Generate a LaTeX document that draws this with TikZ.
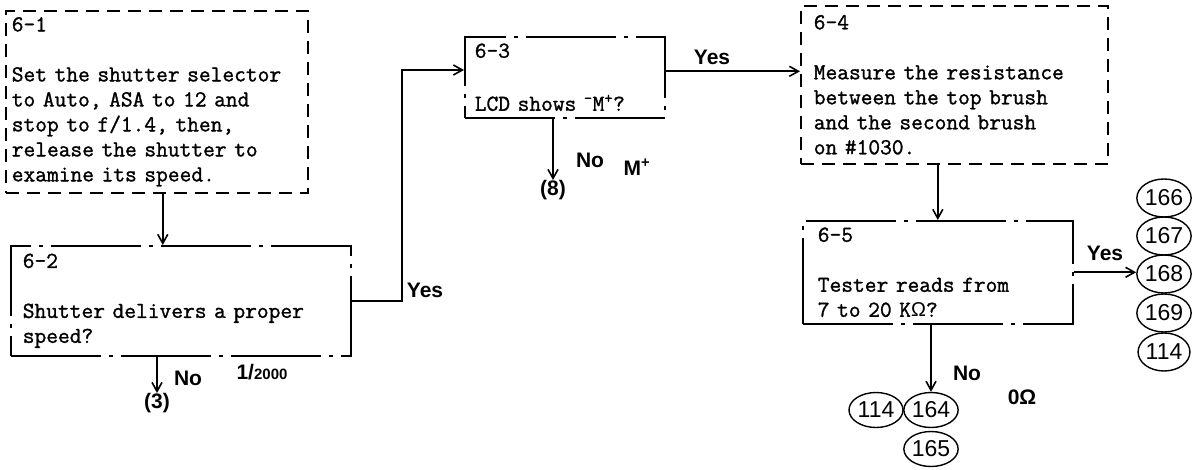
\documentclass[tikz,border=0pt]{standalone}
\usepackage{fontspec}
\setmonofont{Latin Modern Mono}[FakeBold=1.3]
\newfontfamily\handfont{Liberation Sans}
\usetikzlibrary{arrows.meta, shapes.geometric}
\tikzset{
  stepbox/.style={rectangle, draw=black, line width=1.6pt, align=left, inner xsep=12pt, inner ysep=0pt,
                  font=\ttfamily\fontsize{22.8}{25}\selectfont, anchor=north west},
  dashbox/.style={stepbox, dash pattern=on 13pt off 8pt},
  dotbox/.style={stepbox, dash pattern=on 90pt off 8pt on 4pt off 8pt},
  refnum/.style={ellipse, draw=black, line width=1.4pt, minimum width=50pt, minimum height=38pt,
                 inner sep=0pt, font=\handfont\fontsize{23}{23}\selectfont},
  lbl/.style={inner sep=0pt, font=\handfont\bfseries\fontsize{21}{21}\selectfont},
  arr/.style={-{Straight Barb[length=9pt,width=10pt]}, line width=1.6pt}
}

\begin{document}
\begin{tikzpicture}[x=1pt, y=-1pt]
\useasboundingbox (0,0) rectangle (1199,470);
\node[dashbox, inner xsep=6pt, text width=290pt, minimum height=182pt] (b1) at (5,10)
  {6-1\\[25pt]Set the shutter selector\\to Auto, ASA to 12 and\\stop to f/1.4, then,\\release the shutter to\\examine its speed.};
\node[dotbox, text width=316pt, minimum height=110pt] (b2) at (10,245)
  {6-2\\[25pt]Shutter delivers a proper\\speed?};
\node[dotbox, inner xsep=10pt, text width=180pt, minimum height=81pt] (b3) at (464,36)
  {6-3\\[28pt]LCD shows \textsuperscript{-}M\textsuperscript{+}?};
\node[dashbox, inner xsep=13pt, text width=281pt, minimum height=158pt] (b4) at (800,5)
  {6-4\\[25pt]Measure the resistance\\between the top brush\\and the second brush\\on \#1030.};
\node[dotbox, inner xsep=15pt, text width=240pt, minimum height=103pt] (b5) at (802,220)
  {6-5\\[25pt]Tester reads from\\7 to 20 K{\handfont\fontsize{20}{20}\selectfont Ω}?};

\node[lbl] (n3) at (157,403) {(3)};
\node[lbl] (n8) at (553,190) {(8)};
\node[refnum] (r166) at (1164,198) {166};
\node[refnum] (r167) at (1164,236) {167};
\node[refnum] (r168) at (1164,274) {168};
\node[refnum] (r169) at (1164,313) {169};
\node[refnum] (r114a) at (1164,352) {114};
\node[refnum, minimum width=54pt, minimum height=35pt] (r114b) at (876,410) {114};
\node[refnum, minimum width=54pt, minimum height=35pt] (r164) at (931,410) {164};
\node[refnum, minimum width=54pt, minimum height=35pt] (r165) at (931,449) {165};

\node[lbl] (yes1) at (425,290) {Yes};
\node[lbl] (no1) at (188,378) {No};
\node[lbl] (slow) at (262,372) {1/{\fontsize{15}{15}\selectfont 2000}};
\node[lbl] (yes2) at (712,57) {Yes};
\node[lbl] (no2) at (590,160) {No};
\node[lbl] (mplus) at (637,167) {M\textsuperscript{+}};
\node[lbl] (yes3) at (1105,253) {Yes};
\node[lbl] (no3) at (967,373) {No};
\node[lbl] (ohm) at (1022,397) {0Ω};

\coordinate (j1) at (402,70);
\draw[arr] ([xshift=6pt]b1.south) -- ([xshift=6pt]b1.south |- b2.north);
\draw[arr] (b2.south -| n3) -- (n3.north);
\draw[arr] (b2.east) -| (j1) -- (j1 -| b3.west);
\draw[arr] (b3.south -| n8) -- (n8.north);
\draw[arr] ([yshift=6pt]b3.east) -- ([yshift=6pt]b3.east -| b4.west);
\draw[arr] (b5.north |- b4.south) -- (b5.north);
\draw[arr] (b5.east) -- (b5.east -| r168.west);
\draw[arr] (b5.south -| r164) -- (r164.north);
\end{tikzpicture}
\end{document}
